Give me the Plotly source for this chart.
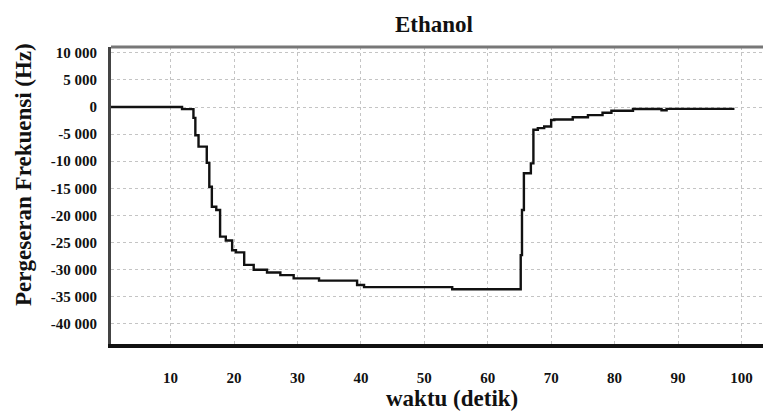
import plotly.graph_objects as go

# Frequency shift of the sensor during ethanol exposure (step-wise readout)
waktu = [0, 11.8, 13.6, 13.9, 14.4, 15.7, 16.1, 16.5, 17.2, 17.8, 18.7, 19.7, 20.3,
         21.6, 23.1, 25.2, 27.3, 29.4, 33.4, 39.4, 40.5, 54.4, 65.2, 65.4, 65.7,
         66.8, 67.2, 67.9, 68.9, 70.0, 70.5, 73.4, 75.8, 78.1, 79.5, 82.9, 87.4,
         88.2, 98.9]
pergeseran = [0, -400, -2000, -5200, -7300, -10300, -14700, -18400, -19000, -23900,
              -24600, -26400, -26800, -29100, -30000, -30500, -31000, -31600, -32000,
              -32800, -33200, -33600, -27300, -19000, -12200, -10400, -4200, -3900,
              -3600, -2400, -2300, -1900, -1500, -1050, -700, -370, -600, -350, -350]

x_ticks = [10, 20, 30, 40, 50, 60, 70, 80, 90, 100]
y_ticks = [10000, 5000, 0, -5000, -10000, -15000, -20000, -25000, -30000, -35000, -40000]
y_ticktext = ["10 000", "5 000", "0", "-5 000", "-10 000", "-15 000", "-20 000",
              "-25 000", "-30 000", "-35 000", "-40 000"]

serif = "Liberation Serif"
ink = "#111111"
tick_font = dict(family=serif, size=15, color=ink, weight="bold")
title_font = dict(family=serif, size=23, color=ink, weight="bold")

fig = go.Figure()
fig.add_trace(go.Scatter(
    x=waktu, y=pergeseran, mode="lines", line_shape="hv",
    line=dict(color=ink, width=2.4), showlegend=False,
))

fig.update_layout(
    width=763, height=412,
    margin=dict(l=111, r=0, t=47, b=68),
    paper_bgcolor="white", plot_bgcolor="white",
    xaxis=dict(
        range=[0.6, 103.4], tickvals=x_ticks, ticktext=[str(v) for v in x_ticks],
        tickfont=tick_font, ticks="", ticklabelstandoff=17,
        showgrid=True, gridcolor="#c4c4c4", griddash="dot", gridwidth=1,
        zeroline=False, showline=True, linecolor=ink, linewidth=4,
    ),
    yaxis=dict(
        range=[-43690, 11060], tickvals=y_ticks, ticktext=y_ticktext,
        tickfont=tick_font, ticks="", ticklabelstandoff=8,
        showgrid=True, gridcolor="#c4c4c4", griddash="dot", gridwidth=1,
        zeroline=False, showline=True, linecolor="#444444", linewidth=3,
    ),
)

# chart title and axis titles
fig.add_annotation(text="Ethanol", xref="paper", yref="paper",
                   x=(434 - 111) / 652, y=1 + (47 - 24) / 297,
                   xanchor="center", yanchor="middle", showarrow=False, font=title_font)
fig.add_annotation(text="waktu (detik)", xref="paper", yref="paper",
                   x=(452 - 111) / 652, y=-(398 - 344) / 297,
                   xanchor="center", yanchor="middle", showarrow=False, font=title_font)
fig.add_annotation(text="Pergeseran Frekuensi (Hz)", xref="paper", yref="paper",
                   x=-(111 - 23) / 652, y=(344 - 175) / 297, textangle=-90,
                   xanchor="center", yanchor="middle", showarrow=False, font=title_font)

# top frame edge of the plot area
fig.add_shape(type="line", xref="paper", yref="paper", x0=0, x1=1, y0=1, y1=1,
              line=dict(color="#777777", width=3))

fig.write_html("out.html")
